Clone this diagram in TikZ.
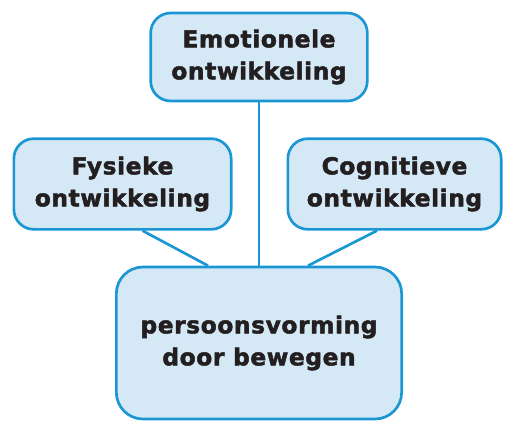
\documentclass[tikz,border=0pt]{standalone}
\usepackage{fontspec}
\newfontfamily\boxfont{DejaVu Sans Bold}[FakeBold=2, LetterSpace=2.5]
\usetikzlibrary{calc}
\definecolor{edgeBlue}{HTML}{1B96D4}
\definecolor{boxFill}{HTML}{D4E8F6}
\definecolor{textDark}{HTML}{231F20}

\begin{document}
\begin{tikzpicture}[
  x=0.75pt, y=-0.75pt,
  link/.style={draw=edgeBlue, line width=2pt},
  theme/.style={
    rectangle,
    rounded corners=15pt,
    draw=edgeBlue,
    fill=boxFill,
    line width=2pt,
    align=center,
    font=\boxfont\fontsize{17.5}{24}\selectfont,
    text=textDark,
    inner sep=0pt
  },
  core/.style={theme, rounded corners=20pt}
]
  \useasboundingbox (0,0) rectangle (505,421);

  % Themes
  \node[theme, minimum width=162.5pt, minimum height=66pt] (emo) at (259,57) {Emotionele\\ontwikkeling};
  \node[theme, minimum width=163pt, minimum height=68pt] (fys) at (122.5,184) {Fysieke\\ontwikkeling};
  \node[theme, minimum width=160pt, minimum height=68pt] (cog) at (394.5,184) {Cognitieve\\ontwikkeling};

  % Centre
  \node[core, minimum width=214pt, minimum height=114pt] (pers) at (259,343) {persoonsvorming\\door bewegen};

  % Links
  \draw[link] (emo.south) -- (pers.north);
  \draw[link] ($(fys.south)+(20,0)$) -- ($(pers.north)+(-51,0)$);
  \draw[link] ($(cog.south)+(-17.5,0)$) -- ($(pers.north)+(49,0)$);
\end{tikzpicture}
\end{document}
